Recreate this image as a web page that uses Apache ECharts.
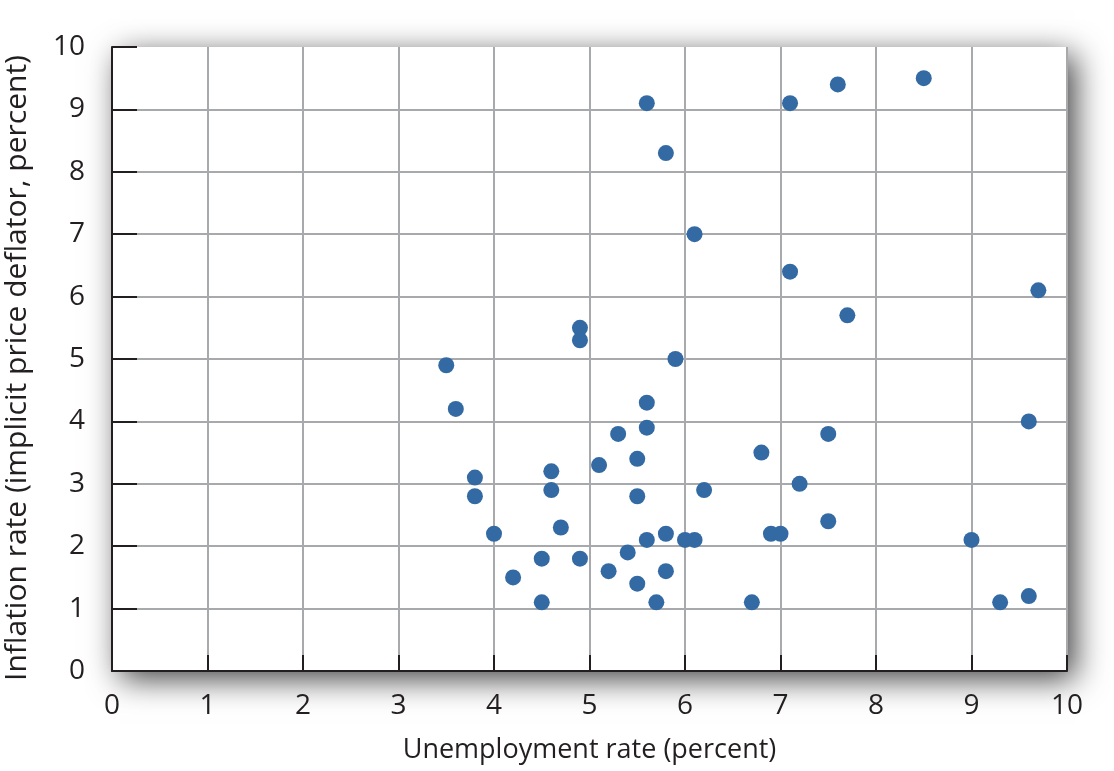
<!DOCTYPE html>
<html>
<head>
<meta charset="utf-8">
<script src="https://cdn.jsdelivr.net/npm/echarts@6/dist/echarts.min.js"></script>
<style>
  html, body { margin: 0; padding: 0; background: #fff; }
  #chart { width: 1114px; height: 771px; }
</style>
</head>
<body>
<div id="chart"></div>
<script>
  // unemployment rate (x) and inflation rate (y), one pair per year
  const unemployment = [3.5, 3.6, 3.8, 3.8, 4.0, 4.2, 4.5, 4.5, 4.6, 4.6, 4.7, 4.9, 4.9, 4.9, 5.1, 5.2, 5.3,
    5.4, 5.5, 5.5, 5.5, 5.6, 5.6, 5.6, 5.6, 5.7, 5.8, 5.8, 5.8, 5.9, 6.0, 6.1, 6.1, 6.2, 6.7, 6.8,
    6.9, 7.0, 7.1, 7.1, 7.2, 7.5, 7.5, 7.6, 7.7, 8.5, 9.0, 9.3, 9.6, 9.6, 9.7]
  const inflation = [4.9, 4.2, 3.1, 2.8, 2.2, 1.5, 1.8, 1.1, 3.2, 2.9, 2.3, 5.5, 5.3, 1.8, 3.3, 1.6, 3.8,
    1.9, 3.4, 2.8, 1.4, 9.1, 4.3, 3.9, 2.1, 1.1, 8.3, 2.2, 1.6, 5.0, 2.1, 7.0, 2.1, 2.9, 1.1, 3.5,
    2.2, 2.2, 9.1, 6.4, 3.0, 3.8, 2.4, 9.4, 5.7, 9.5, 2.1, 1.1, 4.0, 1.2, 6.1]
  const xTicks = ['0', '1', '2', '3', '4', '5', '6', '7', '8', '9', '10']
  const yTicks = ['0', '1', '2', '3', '4', '5', '6', '7', '8', '9', '10']

  const points = unemployment.map((u, i) => [u, inflation[i]])
  const textColor = '#231f20'
  const font = '"Open Sans", "Noto Sans", sans-serif'

  const chart = echarts.init(document.getElementById('chart'))
  chart.setOption({
    animation: false,
    grid: {
      show: true,
      left: 112,
      right: 47,
      top: 47,
      bottom: 100,
      outerBoundsMode: 'none',
      containLabel: false,
      backgroundColor: '#fff',
      borderWidth: 0,
      shadowColor: 'rgba(0,0,0,0.75)',
      shadowBlur: 30,
      shadowOffsetX: 8,
      shadowOffsetY: 8
    },
    xAxis: {
      type: 'value',
      min: 0,
      max: 10,
      interval: 1,
      name: 'Unemployment rate (percent)',
      nameLocation: 'middle',
      nameGap: 66,
      nameTextStyle: { color: textColor, fontSize: 27, fontFamily: font },
      axisLine: { lineStyle: { color: textColor, width: 2 } },
      axisTick: { inside: true, length: 16, lineStyle: { color: textColor, width: 2 } },
      axisLabel: {
        margin: 21,
        color: textColor,
        fontSize: 28,
        fontFamily: font,
        formatter: (v) => xTicks[Math.round(v)]
      },
      splitLine: { lineStyle: { color: '#a7a9ac', width: 2 } }
    },
    yAxis: {
      type: 'value',
      min: 0,
      max: 10,
      interval: 1,
      name: 'Inflation rate (implicit price deflator, percent)',
      nameLocation: 'middle',
      nameGap: 80,
      nameTextStyle: { color: textColor, fontSize: 30, fontFamily: font, padding: [0, 18, 0, 0] },
      axisLine: { show: true, lineStyle: { color: textColor, width: 2 } },
      axisTick: { show: true, inside: true, length: 25, lineStyle: { color: textColor, width: 2 } },
      axisLabel: {
        margin: 27,
        color: textColor,
        fontSize: 28,
        fontFamily: font,
        formatter: (v) => yTicks[Math.round(v)]
      },
      splitLine: { showMaxLine: false, lineStyle: { color: '#a7a9ac', width: 2 } }
    },
    series: [{
      type: 'scatter',
      data: points,
      symbolSize: 16,
      itemStyle: { color: '#336aa3', opacity: 1 }
    }]
  })
</script>
</body>
</html>
